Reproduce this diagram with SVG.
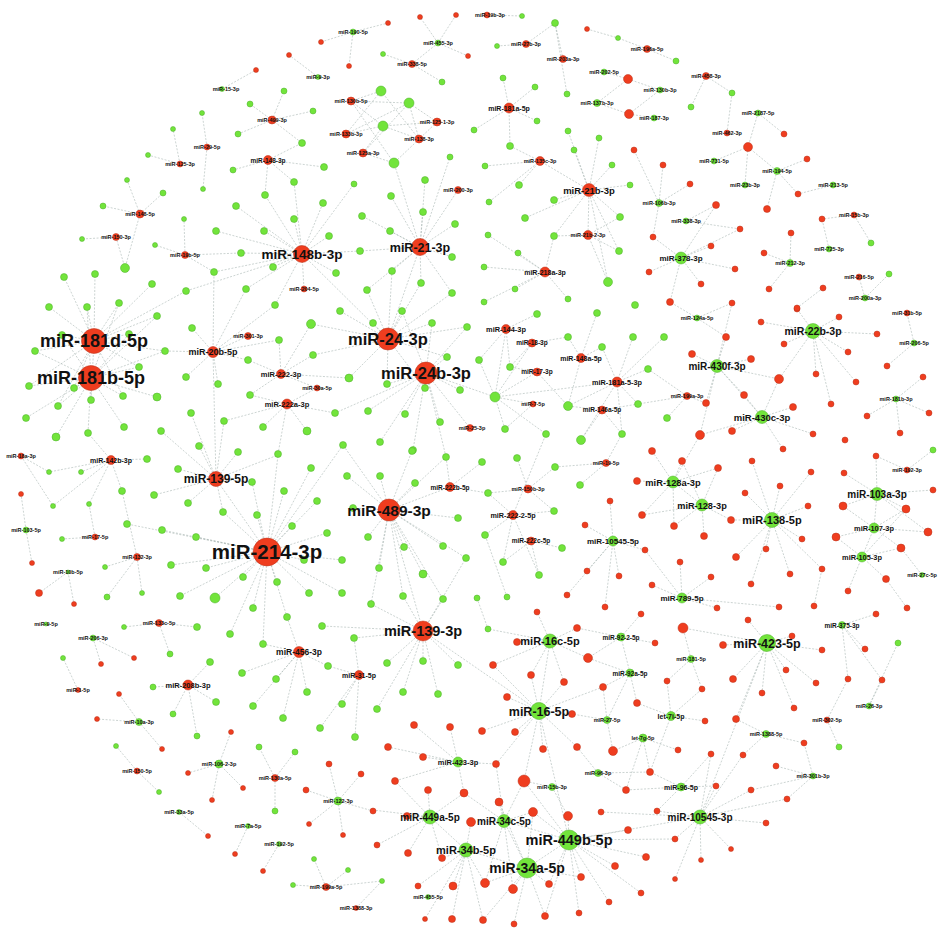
<svg xmlns="http://www.w3.org/2000/svg" width="948" height="930" viewBox="0 0 948 930">
<style>
.e path{fill:none;stroke:#aab7b3;stroke-width:.6;stroke-dasharray:2 1.5}
.r{fill:#ef3d1f;stroke:#b9331a;stroke-width:.5}
.g{fill:#72e43b;stroke:#4dae2b;stroke-width:.5}
text{font-family:"Liberation Sans",Arial,sans-serif;font-weight:bold;fill:#111;text-anchor:middle}
.s{font-size:5.5px}
</style>
<rect width="948" height="930" fill="#fff"/>
<g id="connectors" class="e">
<path d="M302 254L265 195M302 254L236 206M302 254L294 219M302 254L323 203M302 254L354 184M302 254L216 231M302 254L264 231M302 254L329 236M302 254L360 251M302 254L273 267M302 254L336 273M302 254L246 289M302 254L304 289M302 254L275 305M302 254L241 253M302 254L294 182M302 254L186 291M302 254L214 272"/>
<path d="M420 247L425 180M420 247L450 157M420 247L423 212M420 247L391 196M420 247L362 216M420 247L390 231M420 247L455 224M420 247L452 257M420 247L392 271M420 247L421 283M420 247L367 290M420 247L452 293M420 247L394 163M420 247L458 190M420 247L360 251"/>
<path d="M351 101L381 91M351 101L409 103M351 101L383 126M437 122L409 103M437 122L383 126M437 122L394 163M346 134L383 126M346 134L409 103M346 134L381 91M419 139L383 126M419 139L409 103M419 139L381 91M363 153L383 126M363 153L394 163M363 153L409 103M351 101L394 163"/>
<path d="M353 32L388 23M353 32L321 42M353 32L349 66M438 43L420 17M438 43L456 15M438 43L468 56M438 43L412 64M412 64L383 54M412 64L442 82M318 77L289 55M222 89L256 70M272 120L284 91M272 120L250 104M272 120L313 111M272 120L238 134M272 120L302 143M268 160L302 143M268 160L233 170M268 160L324 167M268 160L294 182M268 160L265 195M207 147L202 113M207 147L203 189M180 164L173 129M180 164L148 155M140 214L127 180M140 214L163 193M140 214L103 206M140 214L125 268M116 237L82 239M116 237L125 268M185 255L184 219M185 255L155 245M185 255L241 253M185 255L214 272"/>
<path d="M94 341L64 277M94 341L95 274M94 341L49 307M94 341L87 307M94 341L119 303M94 341L157 316M94 341L62 335M94 341L129 334M94 341L35 351M94 341L165 351M94 341L139 367M94 341L29 386M94 341L74 388M94 341L123 396M94 341L58 406M94 341L91 400M94 341L152 284M94 341L186 291"/>
<path d="M91 378L62 335M91 378L129 334M91 378L35 351M91 378L165 351M91 378L139 367M91 378L29 386M91 378L157 397M91 378L123 396M91 378L58 406M91 378L91 400M91 378L26 418M91 378L88 433M91 378L124 427M91 378L56 437M91 378L74 388M91 378L87 307M91 378L119 303M91 378L157 316"/>
<path d="M213 352L192 328M213 352L275 305M213 352L279 340M213 352L248 360M213 352L218 384M213 352L186 377M213 352L248 336M213 352L214 272M213 352L246 289M213 352L165 351"/>
<path d="M281 374L250 395M281 374L311 324M281 374L313 355M281 374L349 378M281 374L317 388M281 374L279 340M281 374L248 360M287 404L250 395M287 404L335 413M287 404L263 427M287 404L307 431M287 404L278 454M287 404L224 421M287 404L317 388"/>
<path d="M388 339L340 311M388 339L373 323M388 339L402 311M388 339L432 323M388 339L467 327M388 339L447 357M388 339L387 384M388 339L349 378M388 339L311 324M388 339L313 355M388 339L392 271M388 339L367 290M388 339L421 283M388 339L452 293M388 339L425 388"/>
<path d="M426 373L402 311M426 373L432 323M426 373L467 327M426 373L447 357M426 373L368 411M426 373L405 414M426 373L440 422M426 373L425 388M426 373L387 384M426 373L460 390M426 373L380 442M426 373L413 450M426 373L446 457M426 373L495 397M426 373L470 428M426 373L335 413"/>
<path d="M111 460L49 472M111 460L81 472M111 460L53 506M111 460L89 504M111 460L122 491M111 460L147 459M111 460L88 433"/>
<path d="M216 479L178 469M216 479L154 495M216 479L188 503M216 479L199 446M216 479L238 452M216 479L252 482M216 479L223 512M216 479L278 455M216 479L224 421M216 479L191 413M216 479L161 431M216 479L267 552"/>
<path d="M267 552L284 491M267 552L311 468M267 552L317 501M267 552L292 526M267 552L327 533M267 552L257 515M267 552L196 537M267 552L206 568M267 552L243 577M267 552L277 582M267 552L309 593M267 552L342 593M267 552L304 560M267 552L342 560M267 552L180 596M267 552L215 598M267 552L253 608M267 552L171 565M267 552L127 524M267 552L162 530M267 552L223 512M267 552L252 482M267 552L278 455M267 552L263 644M267 552L230 634M267 552L287 617M267 552L343 445"/>
<path d="M389 510L380 476M389 510L347 476M389 510L412 451M389 510L415 483M389 510L447 456M389 510L353 508M389 510L368 537M389 510L404 547M389 510L443 546M389 510L458 518M389 510L379 568M389 510L423 574M389 510L466 558M389 510L371 604M389 510L403 596M389 510L443 599M389 510L343 445M389 510L450 487"/>
<path d="M423 631L387 663M423 631L377 709M423 631L403 692M423 631L423 661M423 631L438 694M423 631L458 665M423 631L354 638M423 631L403 596M423 631L443 599M423 631L371 604M423 631L466 558M423 631L322 626M423 631L539 711"/>
<path d="M299 652L242 673M299 652L276 679M299 652L253 706M299 652L283 718M299 652L307 692M299 652L328 666M299 652L263 644M299 652L287 617M359 675L342 704M359 675L320 728M359 675L355 737M359 675L328 666M359 675L354 638M188 685L153 687M188 685L216 702M188 685L173 714M188 685L197 736M188 685L210 662"/>
<path d="M21 456L53 506M21 456L49 472M26 530L21 494M26 530L32 563M95 537L62 539M95 537L89 504M137 557L105 567M137 557L142 593M137 557L107 597M137 557L122 491M68 572L39 593M68 572L74 604M159 623L124 627M159 623L170 654M159 623L197 627M93 638L101 664M93 638L134 658M78 690L63 658M139 722L97 719M139 722L119 694M139 722L162 749M137 771L116 746M137 771L159 792M219 764L231 732M219 764L188 773M219 764L243 788M219 764L212 800M275 778L259 747M275 778L295 752M275 778L275 811M338 801L329 764M338 801L361 774M338 801L306 790M338 801L373 811M338 801L309 824M338 801L343 835M179 812L208 836M248 826L235 854M279 844L263 871M326 887L293 885M326 887L314 859M326 887L348 870M326 887L382 881M356 908L382 881"/>
<path d="M458 762L388 747M458 762L414 725M458 762L423 757M458 762L395 781M458 762L450 727M458 762L496 764M458 762L464 793M430 817L373 810M430 817L407 816M430 817L428 790M430 817L377 845M430 817L408 853M430 817L442 858M430 817L395 781M430 817L464 793M430 817L466 850"/>
<path d="M466 850L442 858M466 850L453 886M466 850L418 886M466 850L425 919M466 850L452 919M466 850L485 883M466 850L471 822M466 850L483 920M466 850L527 868M504 821L471 822M504 821L499 802M504 821L533 812M504 821L464 793M504 821L485 883M504 821L513 889M504 821L524 781M504 821L496 764M504 821L569 840M504 821L527 868"/>
<path d="M527 868L513 889M527 868L514 924M527 868L545 916M527 868L549 884M527 868L485 883M527 868L483 920M527 868L499 802M527 868L533 812M527 868L581 877M527 868L569 840"/>
<path d="M569 840L568 816M569 840L533 812M569 840L549 884M569 840L545 916M569 840L581 877M569 840L609 902M569 840L579 913M569 840L615 866M569 840L646 857M569 840L641 893M569 840L628 830M569 840L524 781M569 840L675 839M569 840L539 711"/>
<path d="M539 711L507 697M539 711L482 731M539 711L515 732M539 711L543 749M539 711L577 747M539 711L572 714M539 711L564 682M539 711L531 675M539 711L493 665M539 711L603 687M539 711L524 781M539 711L496 764M539 711L550 641M550 641L517 642M550 641L537 612M550 641L577 628M550 641L588 658M550 641L564 682M550 641L531 675M550 641L488 629M550 641L493 665"/>
<path d="M621 637L577 628M621 637L641 614M621 637L588 658M621 637L655 643M621 637L630 673M630 673L603 687M630 673L637 703M630 673L588 658M630 673L607 720M691 659L667 681M691 659L702 689M691 659L683 628M607 720L572 714M607 720L603 687M607 720L613 751M671 716L702 689M671 716L705 721M671 716L667 681M671 716L650 772M671 716L637 703M643 738L613 751M643 738L650 772M643 738L678 750M643 738L626 790M598 773L577 747M598 773L626 790M598 773L650 772M681 787L657 811M681 787L711 754M681 787L716 786M681 787L650 772M681 787L626 790M552 787L524 781M552 787L568 816"/>
<path d="M700 817L675 839M700 817L731 849M700 817L701 860M700 817L675 879M700 817L751 790M700 817L787 799M700 817L766 823M700 817L716 786M700 817L743 755M700 817L711 754M700 817L657 811M700 817L601 812M700 817L569 840"/>
<path d="M767 643L748 620M767 643L792 636M767 643L822 650M767 643L786 670M767 643L816 683M767 643L762 693M767 643L794 708M767 643L733 679M767 643L723 645M767 643L736 719M767 643L683 628M767 643L700 817M842 625L865 649M842 625L848 679M842 625L882 680M842 625L876 614M869 706L882 680M869 706L898 643M827 720L839 747M827 720L848 679M766 734L804 743M766 734L736 719M766 734L743 755M813 776L804 743M813 776L776 766M813 776L787 799M813 776L751 790"/>
<path d="M717 366L726 337M717 366L692 354M717 366L751 359M717 366L779 379M717 366L706 403M717 366L744 395M717 366L700 435M717 366L732 303M717 366L762 417M697 318L670 302M697 318L732 303M697 318L726 337M687 396L648 369M687 396L638 404M687 396L667 418M687 396L706 403"/>
<path d="M762 417L793 407M762 417L813 434M762 417L783 449M762 417L744 395M762 417L732 431M762 417L779 379M762 417L700 435M813 331L797 309M813 331L839 317M813 331L761 322M813 331L877 334M813 331L784 344M813 331L848 352M813 331L816 374M813 331L856 382M813 331L831 404M813 331L779 379"/>
<path d="M673 482L652 451M673 482L682 461M673 482L718 468M673 482L637 481M673 482L642 515M673 482L674 526M673 482L700 435M673 482L702 505M702 505L682 461M702 505L718 468M702 505L674 526M702 505L704 536M702 505L731 520M702 505L642 515"/>
<path d="M772 520L752 461M772 520L780 486M772 520L811 472M772 520L745 493M772 520L808 506M772 520L802 539M772 520L766 549M772 520L736 557M772 520L790 574M772 520L822 569M772 520L751 584M772 520L731 520"/>
<path d="M877 494L933 490M877 494L906 509M877 494L843 506M877 494L876 456M877 494L844 473M877 494L928 532M877 494L874 528M874 528L906 509M874 528L843 506M874 528L928 532M874 528L836 537M874 528L901 548M874 528L862 557M862 557L901 548M862 557L886 579M862 557L848 591M862 557L836 537M862 557L906 509M922 575L901 548"/>
<path d="M613 541L610 501M613 541L585 525M613 541L645 550M613 541L587 571M613 541L619 576M613 541L567 595M613 541L605 607M682 598L680 562M682 598L711 577M682 598L652 585M682 598L717 608M682 598L645 550M682 598L779 607M914 343L887 366M914 343L907 313M896 399L867 416M896 399L929 413M896 399L900 433M896 399L923 377M907 470L933 450M907 470L876 456M814 606L822 569M907 608L886 579"/>
<path d="M506 329L537 314M506 329L479 360M506 329L510 367M506 329L495 397M532 343L510 367M532 343L568 337M532 343L495 397M581 358L568 337M581 358L602 347M581 358L597 313M581 358L568 406M537 372L510 367M537 372L495 397M537 372L568 406M617 382L602 347M617 382L633 337M617 382L664 337M617 382L648 369M617 382L638 404M617 382L622 434M617 382L568 406M617 382L581 440M602 410L568 406M602 410L638 404M602 410L622 434M602 410L581 440M533 404L495 397M533 404L505 429M606 463L580 485M606 463L555 467M606 463L622 434M528 489L488 493M528 489L517 458M528 489L554 511M528 489L555 467M513 515L485 535M513 515L503 562M513 515L488 493M513 515L554 511M513 515L539 575M513 515L546 434M531 541L562 548M531 541L503 562M531 541L539 575M450 487L482 462M450 487L446 457M450 487L488 493M495 397L479 360M495 397L546 434M495 397L505 429M495 397L617 382M507 597L485 535M477 598L488 629"/>
<path d="M589 190L568 131M589 190L574 150M589 190L599 138M589 190L612 165M589 190L630 185M589 190L554 200M589 190L525 218M589 190L620 217M589 190L619 251M589 190L554 236M589 190L588 235M589 190L608 282M589 190L540 161M509 108L503 78M509 108L535 87M509 108L537 121M509 108L510 146M509 108L474 130M540 161L485 166M540 161L519 185M540 161L489 202M540 161L510 146M588 235L554 236M588 235L620 217M588 235L619 251M588 235L608 282M545 272L518 253M545 272L484 267M545 272L515 289M545 272L568 299M545 272L554 236M545 272L484 302M545 272L488 235"/>
<path d="M681 258L653 237M681 258L711 246M681 258L740 229M681 258L649 272M681 258L735 269M681 258L701 284M681 258L670 302M681 258L716 205M659 203L634 150M659 203L663 165M659 203L690 184M659 203L653 237M686 221L716 205M686 221L740 229"/>
<path d="M487 15L522 16M555 23L526 44M555 23L567 94M555 23L563 59M497 46L526 44M587 29L618 38M647 49L618 38M647 49L676 61M628 79L604 72M628 79L660 90M628 79L597 103M629 114L597 103M629 114L654 118M629 114L660 90M706 76L732 93M706 76L691 107M732 93L727 133M758 113L748 147M758 113L784 134M748 147L714 161M748 147L777 171M748 147L745 185M777 171L807 159M777 171L767 209M777 171L798 194M833 185L798 194M854 215L822 219M854 215L871 243M829 249L822 219M790 263L791 233M790 263L764 253M790 263L769 289M865 298L859 277M865 298L889 274M823 288L797 308"/>
<path d="M420 247L388 339M302 254L388 339M389 510L423 631M213 352L216 479"/>
</g>
<g id="leaves-green">
<circle class="g" cx="383" cy="54" r="2.5"/><circle class="g" cx="442" cy="82" r="3"/><circle class="g" cx="284" cy="91" r="3"/><circle class="g" cx="250" cy="104" r="3"/><circle class="g" cx="313" cy="111" r="3"/><circle class="g" cx="238" cy="134" r="3"/><circle class="g" cx="302" cy="143" r="3.5"/><circle class="g" cx="233" cy="170" r="3"/><circle class="g" cx="324" cy="167" r="3.5"/><circle class="g" cx="294" cy="182" r="3.5"/><circle class="g" cx="202" cy="113" r="2.5"/><circle class="g" cx="203" cy="189" r="2.5"/><circle class="g" cx="173" cy="129" r="2.5"/><circle class="g" cx="148" cy="155" r="2.5"/><circle class="g" cx="127" cy="180" r="2.5"/><circle class="g" cx="163" cy="193" r="3"/><circle class="g" cx="103" cy="206" r="3"/><circle class="g" cx="125" cy="268" r="4.5"/><circle class="g" cx="82" cy="239" r="2.5"/><circle class="g" cx="184" cy="219" r="2.5"/><circle class="g" cx="155" cy="245" r="2.5"/><circle class="g" cx="241" cy="253" r="3.5"/><circle class="g" cx="265" cy="195" r="3.5"/><circle class="g" cx="236" cy="206" r="3.5"/><circle class="g" cx="294" cy="219" r="3.5"/><circle class="g" cx="323" cy="203" r="3.5"/><circle class="g" cx="354" cy="184" r="3"/><circle class="g" cx="216" cy="231" r="3.5"/><circle class="g" cx="264" cy="231" r="3.5"/><circle class="g" cx="329" cy="236" r="3.5"/><circle class="g" cx="360" cy="251" r="3.5"/><circle class="g" cx="273" cy="267" r="3.5"/><circle class="g" cx="336" cy="273" r="3.5"/><circle class="g" cx="246" cy="289" r="3.5"/><circle class="g" cx="275" cy="305" r="3.5"/><circle class="g" cx="186" cy="291" r="3.5"/><circle class="g" cx="214" cy="272" r="3.5"/><circle class="g" cx="152" cy="284" r="3.5"/><circle class="g" cx="95" cy="274" r="3.5"/><circle class="g" cx="64" cy="277" r="3.5"/><circle class="g" cx="49" cy="307" r="3.5"/><circle class="g" cx="87" cy="307" r="3.5"/><circle class="g" cx="119" cy="303" r="3.5"/>
<circle class="g" cx="425" cy="180" r="3.5"/><circle class="g" cx="450" cy="157" r="3"/><circle class="g" cx="423" cy="212" r="3.5"/><circle class="g" cx="391" cy="196" r="3.5"/><circle class="g" cx="362" cy="216" r="3.5"/><circle class="g" cx="390" cy="231" r="3.5"/><circle class="g" cx="455" cy="224" r="3.5"/><circle class="g" cx="452" cy="257" r="3.5"/><circle class="g" cx="392" cy="271" r="3.5"/><circle class="g" cx="421" cy="283" r="3.5"/><circle class="g" cx="367" cy="290" r="3.5"/><circle class="g" cx="452" cy="293" r="3.5"/><circle class="g" cx="381" cy="91" r="5"/><circle class="g" cx="409" cy="103" r="5"/><circle class="g" cx="383" cy="126" r="5"/><circle class="g" cx="394" cy="163" r="5"/>
<circle class="g" cx="157" cy="316" r="3.5"/><circle class="g" cx="62" cy="335" r="3.5"/><circle class="g" cx="129" cy="334" r="3.5"/><circle class="g" cx="35" cy="351" r="3.5"/><circle class="g" cx="165" cy="351" r="3.5"/><circle class="g" cx="139" cy="367" r="3.5"/><circle class="g" cx="29" cy="386" r="3.5"/><circle class="g" cx="157" cy="397" r="4"/><circle class="g" cx="123" cy="396" r="3.5"/><circle class="g" cx="58" cy="406" r="3.5"/><circle class="g" cx="91" cy="400" r="3.5"/><circle class="g" cx="26" cy="418" r="3.5"/><circle class="g" cx="88" cy="433" r="3.5"/><circle class="g" cx="124" cy="427" r="3.5"/><circle class="g" cx="56" cy="437" r="4"/><circle class="g" cx="74" cy="388" r="3.5"/><circle class="g" cx="192" cy="328" r="3.5"/><circle class="g" cx="279" cy="340" r="3.5"/><circle class="g" cx="248" cy="360" r="3.5"/><circle class="g" cx="218" cy="384" r="3.5"/><circle class="g" cx="186" cy="377" r="3.5"/><circle class="g" cx="250" cy="395" r="3.5"/><circle class="g" cx="311" cy="324" r="4.5"/><circle class="g" cx="313" cy="355" r="3.5"/><circle class="g" cx="335" cy="413" r="3.5"/><circle class="g" cx="263" cy="427" r="3.5"/><circle class="g" cx="307" cy="431" r="4"/><circle class="g" cx="349" cy="378" r="4"/><circle class="g" cx="278" cy="454" r="3.5"/><circle class="g" cx="224" cy="421" r="3.5"/><circle class="g" cx="191" cy="413" r="3.5"/><circle class="g" cx="161" cy="431" r="3.5"/><circle class="g" cx="199" cy="446" r="3.5"/><circle class="g" cx="238" cy="452" r="3.5"/>
<circle class="g" cx="340" cy="311" r="3.5"/><circle class="g" cx="373" cy="323" r="3.5"/><circle class="g" cx="402" cy="311" r="3.5"/><circle class="g" cx="432" cy="323" r="3.5"/><circle class="g" cx="467" cy="327" r="3.5"/><circle class="g" cx="447" cy="357" r="3.5"/><circle class="g" cx="368" cy="411" r="3.5"/><circle class="g" cx="405" cy="414" r="3.5"/><circle class="g" cx="440" cy="422" r="3.5"/><circle class="g" cx="425" cy="388" r="3.5"/><circle class="g" cx="387" cy="384" r="3.5"/><circle class="g" cx="460" cy="390" r="3.5"/><circle class="g" cx="380" cy="442" r="3.5"/><circle class="g" cx="413" cy="450" r="3.5"/><circle class="g" cx="446" cy="457" r="3.5"/><circle class="g" cx="495" cy="397" r="5"/><circle class="g" cx="49" cy="472" r="2.5"/><circle class="g" cx="81" cy="472" r="2.5"/><circle class="g" cx="53" cy="506" r="2.5"/><circle class="g" cx="89" cy="504" r="2.5"/><circle class="g" cx="122" cy="491" r="3.5"/><circle class="g" cx="147" cy="459" r="3.5"/><circle class="g" cx="178" cy="469" r="3.5"/><circle class="g" cx="154" cy="495" r="3.5"/><circle class="g" cx="188" cy="503" r="3.5"/><circle class="g" cx="252" cy="482" r="3.5"/><circle class="g" cx="223" cy="512" r="3.5"/>
<circle class="g" cx="284" cy="491" r="3.5"/><circle class="g" cx="311" cy="468" r="3.5"/><circle class="g" cx="317" cy="501" r="3.5"/><circle class="g" cx="292" cy="526" r="3.5"/><circle class="g" cx="327" cy="533" r="3.5"/><circle class="g" cx="257" cy="515" r="3.5"/><circle class="g" cx="196" cy="537" r="3.5"/><circle class="g" cx="206" cy="568" r="3.5"/><circle class="g" cx="243" cy="577" r="3.5"/><circle class="g" cx="277" cy="582" r="3.5"/><circle class="g" cx="309" cy="593" r="3.5"/><circle class="g" cx="342" cy="593" r="3.5"/><circle class="g" cx="304" cy="560" r="3.5"/><circle class="g" cx="342" cy="560" r="3.5"/><circle class="g" cx="180" cy="596" r="3.5"/><circle class="g" cx="215" cy="598" r="5"/><circle class="g" cx="253" cy="608" r="3.5"/><circle class="g" cx="171" cy="565" r="3.5"/><circle class="g" cx="127" cy="524" r="3.5"/><circle class="g" cx="162" cy="530" r="3.5"/><circle class="g" cx="343" cy="445" r="3.5"/><circle class="g" cx="347" cy="476" r="3.5"/><circle class="g" cx="380" cy="476" r="3.5"/><circle class="g" cx="412" cy="451" r="3.5"/><circle class="g" cx="415" cy="483" r="3.5"/><circle class="g" cx="353" cy="508" r="3.5"/><circle class="g" cx="368" cy="537" r="3.5"/><circle class="g" cx="404" cy="547" r="3.5"/><circle class="g" cx="443" cy="546" r="3.5"/><circle class="g" cx="458" cy="518" r="3.5"/><circle class="g" cx="379" cy="568" r="3.5"/><circle class="g" cx="423" cy="574" r="4"/><circle class="g" cx="466" cy="558" r="3.5"/><circle class="g" cx="371" cy="604" r="3.5"/><circle class="g" cx="403" cy="596" r="3.5"/><circle class="g" cx="443" cy="599" r="3.5"/><circle class="g" cx="62" cy="539" r="2.5"/><circle class="g" cx="105" cy="567" r="2.5"/><circle class="g" cx="142" cy="593" r="2.5"/><circle class="g" cx="107" cy="597" r="3"/>
<circle class="g" cx="124" cy="627" r="2.5"/><circle class="g" cx="170" cy="654" r="3"/><circle class="g" cx="197" cy="627" r="3.5"/><circle class="g" cx="230" cy="634" r="3.5"/><circle class="g" cx="263" cy="644" r="3.5"/><circle class="g" cx="287" cy="617" r="3.5"/><circle class="g" cx="322" cy="626" r="3.5"/><circle class="g" cx="354" cy="638" r="3.5"/><circle class="g" cx="63" cy="658" r="2.5"/><circle class="g" cx="153" cy="687" r="3"/><circle class="g" cx="216" cy="702" r="3.5"/><circle class="g" cx="173" cy="714" r="3"/><circle class="g" cx="197" cy="736" r="3"/><circle class="g" cx="210" cy="662" r="3.5"/><circle class="g" cx="242" cy="673" r="3.5"/><circle class="g" cx="276" cy="679" r="3.5"/><circle class="g" cx="253" cy="706" r="3.5"/><circle class="g" cx="283" cy="718" r="3.5"/><circle class="g" cx="307" cy="692" r="3.5"/><circle class="g" cx="328" cy="666" r="3.5"/><circle class="g" cx="342" cy="704" r="3.5"/><circle class="g" cx="320" cy="728" r="3.5"/><circle class="g" cx="355" cy="737" r="3.5"/><circle class="g" cx="387" cy="663" r="3.5"/><circle class="g" cx="377" cy="709" r="3.5"/><circle class="g" cx="403" cy="692" r="3.5"/><circle class="g" cx="423" cy="661" r="3.5"/><circle class="g" cx="438" cy="694" r="3.5"/><circle class="g" cx="458" cy="665" r="3.5"/><circle class="g" cx="116" cy="746" r="2.5"/><circle class="g" cx="159" cy="792" r="2.5"/><circle class="g" cx="259" cy="747" r="3"/><circle class="g" cx="295" cy="752" r="3"/><circle class="g" cx="275" cy="811" r="3"/><circle class="g" cx="293" cy="885" r="2.5"/><circle class="g" cx="314" cy="859" r="2.5"/><circle class="g" cx="348" cy="870" r="2.5"/><circle class="g" cx="382" cy="881" r="2.5"/>
<circle class="g" cx="537" cy="314" r="3.5"/><circle class="g" cx="597" cy="313" r="3.5"/><circle class="g" cx="635" cy="305" r="3.5"/><circle class="g" cx="479" cy="360" r="3.5"/><circle class="g" cx="510" cy="367" r="3.5"/><circle class="g" cx="568" cy="337" r="3.5"/><circle class="g" cx="602" cy="347" r="3.5"/><circle class="g" cx="633" cy="337" r="3.5"/><circle class="g" cx="664" cy="337" r="3.5"/><circle class="g" cx="568" cy="406" r="4.5"/><circle class="g" cx="648" cy="369" r="3.5"/><circle class="g" cx="638" cy="404" r="3.5"/><circle class="g" cx="667" cy="418" r="3.5"/><circle class="g" cx="622" cy="434" r="3.5"/><circle class="g" cx="546" cy="434" r="3.5"/><circle class="g" cx="581" cy="440" r="4.5"/><circle class="g" cx="505" cy="429" r="3.5"/><circle class="g" cx="517" cy="458" r="3.5"/><circle class="g" cx="482" cy="462" r="3.5"/><circle class="g" cx="555" cy="467" r="3.5"/><circle class="g" cx="580" cy="485" r="3.5"/><circle class="g" cx="488" cy="493" r="3.5"/><circle class="g" cx="554" cy="511" r="3.5"/><circle class="g" cx="485" cy="535" r="3.5"/><circle class="g" cx="562" cy="548" r="3.5"/><circle class="g" cx="503" cy="562" r="3.5"/><circle class="g" cx="539" cy="575" r="3.5"/><circle class="g" cx="507" cy="597" r="3"/><circle class="g" cx="477" cy="598" r="3"/><circle class="g" cx="488" cy="629" r="3"/><circle class="g" cx="933" cy="450" r="3"/><circle class="g" cx="898" cy="643" r="3"/><circle class="g" cx="839" cy="747" r="3"/>
<circle class="g" cx="522" cy="16" r="2.5"/><circle class="g" cx="555" cy="23" r="3.5"/><circle class="g" cx="497" cy="46" r="2.5"/><circle class="g" cx="567" cy="94" r="3"/><circle class="g" cx="618" cy="38" r="2.5"/><circle class="g" cx="676" cy="61" r="3"/><circle class="g" cx="732" cy="93" r="3"/><circle class="g" cx="691" cy="107" r="3"/><circle class="g" cx="503" cy="78" r="3"/><circle class="g" cx="535" cy="87" r="3"/><circle class="g" cx="537" cy="121" r="3"/><circle class="g" cx="510" cy="146" r="3.5"/><circle class="g" cx="474" cy="130" r="3"/><circle class="g" cx="485" cy="166" r="3"/><circle class="g" cx="519" cy="185" r="3.5"/><circle class="g" cx="489" cy="202" r="3"/><circle class="g" cx="568" cy="131" r="3"/><circle class="g" cx="574" cy="150" r="3"/><circle class="g" cx="599" cy="138" r="3"/><circle class="g" cx="612" cy="165" r="3"/><circle class="g" cx="630" cy="185" r="3"/><circle class="g" cx="554" cy="200" r="3.5"/><circle class="g" cx="525" cy="218" r="3.5"/><circle class="g" cx="620" cy="217" r="3.5"/><circle class="g" cx="619" cy="251" r="3.5"/><circle class="g" cx="554" cy="236" r="3.5"/><circle class="g" cx="608" cy="282" r="4.5"/><circle class="g" cx="518" cy="253" r="3"/><circle class="g" cx="484" cy="267" r="3"/><circle class="g" cx="515" cy="289" r="3"/><circle class="g" cx="568" cy="299" r="3"/><circle class="g" cx="484" cy="302" r="3"/><circle class="g" cx="488" cy="235" r="3"/><circle class="g" cx="871" cy="243" r="3"/><circle class="g" cx="889" cy="274" r="3"/>
</g>
<g id="leaves-red">
<circle class="r" cx="388" cy="23" r="2.5"/><circle class="r" cx="321" cy="42" r="2.5"/><circle class="r" cx="349" cy="66" r="2.5"/><circle class="r" cx="420" cy="17" r="2.5"/><circle class="r" cx="456" cy="15" r="2.5"/><circle class="r" cx="468" cy="56" r="2.5"/><circle class="r" cx="289" cy="55" r="2.5"/><circle class="r" cx="256" cy="70" r="2.5"/><circle class="r" cx="21" cy="494" r="2.5"/><circle class="r" cx="32" cy="563" r="2.5"/><circle class="r" cx="39" cy="593" r="3.5"/><circle class="r" cx="74" cy="604" r="2.5"/>
<circle class="r" cx="101" cy="664" r="2.5"/><circle class="r" cx="134" cy="658" r="2.5"/><circle class="r" cx="97" cy="719" r="2.5"/><circle class="r" cx="119" cy="694" r="2.5"/><circle class="r" cx="162" cy="749" r="2.5"/><circle class="r" cx="231" cy="732" r="2.5"/><circle class="r" cx="188" cy="773" r="2.5"/><circle class="r" cx="243" cy="788" r="2.5"/><circle class="r" cx="212" cy="800" r="2.5"/><circle class="r" cx="329" cy="764" r="3"/><circle class="r" cx="361" cy="774" r="3"/><circle class="r" cx="306" cy="790" r="3"/><circle class="r" cx="373" cy="811" r="3"/><circle class="r" cx="309" cy="824" r="2.5"/><circle class="r" cx="343" cy="835" r="2.5"/><circle class="r" cx="208" cy="836" r="2.5"/><circle class="r" cx="235" cy="854" r="2.5"/><circle class="r" cx="263" cy="871" r="2.5"/>
<circle class="r" cx="388" cy="747" r="3.5"/><circle class="r" cx="414" cy="725" r="3.5"/><circle class="r" cx="423" cy="757" r="3.5"/><circle class="r" cx="450" cy="727" r="3.5"/><circle class="r" cx="395" cy="781" r="3.5"/><circle class="r" cx="428" cy="790" r="3.5"/><circle class="r" cx="464" cy="793" r="4"/><circle class="r" cx="407" cy="816" r="3.5"/><circle class="r" cx="471" cy="822" r="4.5"/><circle class="r" cx="377" cy="845" r="3"/><circle class="r" cx="408" cy="853" r="3.5"/><circle class="r" cx="442" cy="858" r="3.5"/><circle class="r" cx="418" cy="886" r="3"/><circle class="r" cx="453" cy="886" r="4"/><circle class="r" cx="425" cy="919" r="2.5"/><circle class="r" cx="452" cy="919" r="3.5"/><circle class="r" cx="485" cy="883" r="4.5"/><circle class="r" cx="483" cy="920" r="3.5"/><circle class="r" cx="513" cy="889" r="4.5"/><circle class="r" cx="514" cy="924" r="3"/><circle class="r" cx="496" cy="764" r="3.5"/><circle class="r" cx="499" cy="802" r="4"/><circle class="r" cx="533" cy="812" r="4.5"/><circle class="r" cx="568" cy="816" r="4.5"/><circle class="r" cx="524" cy="781" r="6"/><circle class="r" cx="549" cy="884" r="3.5"/><circle class="r" cx="545" cy="916" r="3.5"/><circle class="r" cx="581" cy="877" r="3.5"/><circle class="r" cx="609" cy="902" r="3"/><circle class="r" cx="579" cy="913" r="3"/><circle class="r" cx="615" cy="866" r="3.5"/><circle class="r" cx="646" cy="857" r="3.5"/><circle class="r" cx="641" cy="893" r="3"/><circle class="r" cx="628" cy="830" r="3.5"/>
<circle class="r" cx="507" cy="697" r="3.5"/><circle class="r" cx="482" cy="731" r="3.5"/><circle class="r" cx="515" cy="732" r="3.5"/><circle class="r" cx="543" cy="749" r="3.5"/><circle class="r" cx="577" cy="747" r="3.5"/><circle class="r" cx="572" cy="714" r="3.5"/><circle class="r" cx="564" cy="682" r="3.5"/><circle class="r" cx="531" cy="675" r="3.5"/><circle class="r" cx="493" cy="665" r="3.5"/><circle class="r" cx="517" cy="642" r="3.5"/><circle class="r" cx="537" cy="612" r="3"/><circle class="r" cx="577" cy="628" r="3.5"/><circle class="r" cx="588" cy="658" r="4.5"/><circle class="r" cx="603" cy="687" r="3.5"/><circle class="r" cx="637" cy="703" r="3.5"/><circle class="r" cx="641" cy="614" r="3"/><circle class="r" cx="655" cy="643" r="3"/><circle class="r" cx="683" cy="628" r="5"/><circle class="r" cx="667" cy="681" r="3"/><circle class="r" cx="702" cy="689" r="3"/><circle class="r" cx="705" cy="721" r="3"/><circle class="r" cx="678" cy="750" r="3"/><circle class="r" cx="650" cy="772" r="3.5"/><circle class="r" cx="626" cy="790" r="3.5"/><circle class="r" cx="613" cy="751" r="4.5"/><circle class="r" cx="657" cy="811" r="3"/><circle class="r" cx="601" cy="812" r="3"/><circle class="r" cx="723" cy="645" r="3.5"/><circle class="r" cx="748" cy="620" r="3"/><circle class="r" cx="792" cy="636" r="3"/><circle class="r" cx="822" cy="650" r="3"/><circle class="r" cx="786" cy="670" r="3"/><circle class="r" cx="816" cy="683" r="3"/><circle class="r" cx="762" cy="693" r="3"/><circle class="r" cx="794" cy="708" r="3"/><circle class="r" cx="733" cy="679" r="3.5"/><circle class="r" cx="736" cy="719" r="3.5"/><circle class="r" cx="675" cy="839" r="3"/><circle class="r" cx="731" cy="849" r="2.5"/><circle class="r" cx="701" cy="860" r="2.5"/><circle class="r" cx="675" cy="879" r="2.5"/><circle class="r" cx="751" cy="790" r="3"/><circle class="r" cx="787" cy="799" r="3"/><circle class="r" cx="766" cy="823" r="3"/><circle class="r" cx="716" cy="786" r="3"/><circle class="r" cx="743" cy="755" r="3"/><circle class="r" cx="711" cy="754" r="3"/><circle class="r" cx="804" cy="743" r="3"/><circle class="r" cx="776" cy="766" r="3"/><circle class="r" cx="876" cy="614" r="3"/><circle class="r" cx="865" cy="649" r="3"/><circle class="r" cx="848" cy="679" r="3"/><circle class="r" cx="882" cy="680" r="3"/>
<circle class="r" cx="670" cy="302" r="3.5"/><circle class="r" cx="732" cy="303" r="3"/><circle class="r" cx="726" cy="337" r="3.5"/><circle class="r" cx="692" cy="354" r="3.5"/><circle class="r" cx="751" cy="359" r="3.5"/><circle class="r" cx="779" cy="379" r="4.5"/><circle class="r" cx="706" cy="403" r="3.5"/><circle class="r" cx="744" cy="395" r="3.5"/><circle class="r" cx="700" cy="435" r="4.5"/><circle class="r" cx="732" cy="431" r="3.5"/><circle class="r" cx="793" cy="407" r="3.5"/><circle class="r" cx="813" cy="434" r="3"/><circle class="r" cx="783" cy="449" r="3"/><circle class="r" cx="797" cy="309" r="3"/><circle class="r" cx="839" cy="317" r="3"/><circle class="r" cx="761" cy="322" r="3"/><circle class="r" cx="877" cy="334" r="3"/><circle class="r" cx="784" cy="344" r="3"/><circle class="r" cx="848" cy="352" r="3"/><circle class="r" cx="816" cy="374" r="3"/><circle class="r" cx="856" cy="382" r="3"/><circle class="r" cx="831" cy="404" r="3"/><circle class="r" cx="887" cy="366" r="3"/><circle class="r" cx="923" cy="377" r="3"/><circle class="r" cx="867" cy="416" r="3"/><circle class="r" cx="929" cy="413" r="3"/><circle class="r" cx="900" cy="433" r="3"/><circle class="r" cx="845" cy="440" r="3"/><circle class="r" cx="876" cy="456" r="3"/><circle class="r" cx="844" cy="473" r="3"/>
<circle class="r" cx="652" cy="451" r="3.5"/><circle class="r" cx="682" cy="461" r="3.5"/><circle class="r" cx="718" cy="468" r="3.5"/><circle class="r" cx="637" cy="481" r="3.5"/><circle class="r" cx="642" cy="515" r="3.5"/><circle class="r" cx="674" cy="526" r="3.5"/><circle class="r" cx="704" cy="536" r="3.5"/><circle class="r" cx="731" cy="520" r="3.5"/><circle class="r" cx="752" cy="461" r="3"/><circle class="r" cx="780" cy="486" r="3"/><circle class="r" cx="811" cy="472" r="3"/><circle class="r" cx="745" cy="493" r="3"/><circle class="r" cx="808" cy="506" r="3"/><circle class="r" cx="802" cy="539" r="3"/><circle class="r" cx="766" cy="549" r="3"/><circle class="r" cx="736" cy="557" r="3.5"/><circle class="r" cx="790" cy="574" r="3"/><circle class="r" cx="822" cy="569" r="3"/><circle class="r" cx="751" cy="584" r="3"/><circle class="r" cx="933" cy="490" r="3"/><circle class="r" cx="906" cy="509" r="4"/><circle class="r" cx="843" cy="506" r="4"/><circle class="r" cx="928" cy="532" r="4"/><circle class="r" cx="836" cy="537" r="4"/><circle class="r" cx="901" cy="548" r="4"/><circle class="r" cx="886" cy="579" r="3.5"/><circle class="r" cx="848" cy="591" r="3"/><circle class="r" cx="610" cy="501" r="3"/><circle class="r" cx="585" cy="525" r="3"/><circle class="r" cx="645" cy="550" r="3"/><circle class="r" cx="587" cy="571" r="3"/><circle class="r" cx="619" cy="576" r="3"/><circle class="r" cx="567" cy="595" r="3"/><circle class="r" cx="605" cy="607" r="3"/><circle class="r" cx="680" cy="562" r="3"/><circle class="r" cx="711" cy="577" r="3"/><circle class="r" cx="652" cy="585" r="3"/><circle class="r" cx="717" cy="608" r="3"/><circle class="r" cx="779" cy="607" r="3"/><circle class="r" cx="814" cy="606" r="3"/><circle class="r" cx="907" cy="608" r="3"/>
<circle class="r" cx="587" cy="29" r="2.5"/><circle class="r" cx="628" cy="79" r="4.5"/><circle class="r" cx="629" cy="114" r="4.5"/><circle class="r" cx="784" cy="134" r="3"/><circle class="r" cx="748" cy="147" r="4.5"/><circle class="r" cx="807" cy="159" r="3"/><circle class="r" cx="767" cy="209" r="3.5"/><circle class="r" cx="798" cy="194" r="3"/><circle class="r" cx="822" cy="219" r="3"/><circle class="r" cx="791" cy="233" r="3"/><circle class="r" cx="764" cy="253" r="3"/><circle class="r" cx="769" cy="289" r="3"/><circle class="r" cx="823" cy="288" r="3"/><circle class="r" cx="797" cy="308" r="3"/><circle class="r" cx="634" cy="150" r="3"/><circle class="r" cx="663" cy="165" r="3"/><circle class="r" cx="690" cy="184" r="3"/><circle class="r" cx="716" cy="205" r="3.5"/><circle class="r" cx="653" cy="237" r="3"/><circle class="r" cx="711" cy="246" r="3"/><circle class="r" cx="740" cy="229" r="3"/><circle class="r" cx="649" cy="272" r="3"/><circle class="r" cx="735" cy="269" r="3"/><circle class="r" cx="701" cy="284" r="3"/>
</g>
<g id="small-labelled-nodes">
<g id="s1"><circle class="g" cx="353" cy="32" r="3"/><text class="s" x="353" y="34">miR-190-5p</text></g>
<g id="s2"><circle class="g" cx="438" cy="43" r="3"/><text class="s" x="438" y="45">miR-455-3p</text></g>
<g id="s3"><circle class="r" cx="412" cy="64" r="3.5"/><text class="s" x="412" y="66">miR-338-5p</text></g>
<g id="s4"><circle class="g" cx="318" cy="77" r="2.5"/><text class="s" x="318" y="79">miR-9-3p</text></g>
<g id="s5"><circle class="g" cx="222" cy="89" r="2.5"/><text class="s" x="226" y="91">miR-15-3p</text></g>
<g id="s6"><circle class="r" cx="272" cy="120" r="4"/><text class="s" x="272" y="122">miR-499-3p</text></g>
<g id="s7"><circle class="r" cx="268" cy="160" r="4.5"/><text x="268" y="162.5" font-size="6.5">miR-148-3p</text></g>
<g id="s8"><circle class="r" cx="207" cy="147" r="3"/><text class="s" x="207" y="149">miR-29-5p</text></g>
<g id="s9"><circle class="r" cx="180" cy="164" r="3"/><text class="s" x="180" y="166">miR-125-3p</text></g>
<g id="s10"><circle class="r" cx="140" cy="214" r="4"/><text class="s" x="140" y="216">miR-148-5p</text></g>
<g id="s11"><circle class="r" cx="116" cy="237" r="3.5"/><text class="s" x="116" y="239">miR-150-3p</text></g>
<g id="s12"><circle class="r" cx="185" cy="255" r="3.5"/><text class="s" x="185" y="257">miR-19b-5p</text></g>
<g id="s13"><circle class="r" cx="304" cy="289" r="3"/><text class="s" x="304" y="291">miR-204-5p</text></g>
<g id="s14"><circle class="r" cx="351" cy="101" r="4"/><text class="s" x="351" y="103">miR-130b-5p</text></g>
<g id="s15"><circle class="r" cx="437" cy="122" r="4"/><text class="s" x="437" y="124">miR-125-1-3p</text></g>
<g id="s16"><circle class="r" cx="346" cy="134" r="4"/><text class="s" x="346" y="136">miR-133b-3p</text></g>
<g id="s17"><circle class="r" cx="419" cy="139" r="4"/><text class="s" x="419" y="141">miR-138-3p</text></g>
<g id="s18"><circle class="r" cx="363" cy="153" r="4"/><text class="s" x="363" y="155">miR-125a-3p</text></g>
<g id="s19"><circle class="r" cx="458" cy="190" r="3.5"/><text class="s" x="458" y="192">miR-200-3p</text></g>
<g id="s20"><circle class="r" cx="248" cy="336" r="3.5"/><text class="s" x="248" y="338">miR-301-3p</text></g>
<g id="s21"><circle class="r" cx="317" cy="388" r="3"/><text class="s" x="317" y="390">miR-30a-5p</text></g>
<g id="s22"><circle class="r" cx="470" cy="428" r="3.5"/><text class="s" x="472" y="430">miR-25-3p</text></g>
<g id="s23"><circle class="r" cx="21" cy="456" r="3"/><text class="s" x="21" y="458">miR-18a-3p</text></g>
<g id="s24"><circle class="g" cx="26" cy="530" r="3"/><text class="s" x="26" y="532">miR-103-5p</text></g>
<g id="s25"><circle class="r" cx="95" cy="537" r="3"/><text class="s" x="95" y="539">miR-17-5p</text></g>
<g id="s26"><circle class="r" cx="137" cy="557" r="3.5"/><text class="s" x="137" y="559">miR-132-3p</text></g>
<g id="s27"><circle class="g" cx="68" cy="572" r="2"/><text class="s" x="68" y="574">miR-10b-5p</text></g>
<g id="s28"><circle class="g" cx="46" cy="624" r="2"/><text class="s" x="46" y="626">miR-9-5p</text></g>
<g id="s29"><circle class="r" cx="159" cy="623" r="3.5"/><text class="s" x="159" y="625">miR-133c-5p</text></g>
<g id="s30"><circle class="g" cx="93" cy="638" r="3"/><text class="s" x="93" y="640">miR-206-3p</text></g>
<g id="s31"><circle class="r" cx="78" cy="690" r="2.5"/><text class="s" x="78" y="692">miR-1-5p</text></g>
<g id="s32"><circle class="g" cx="139" cy="722" r="3.5"/><text class="s" x="139" y="724">miR-10a-3p</text></g>
<g id="s33"><circle class="r" cx="137" cy="771" r="3"/><text class="s" x="137" y="773">miR-150-5p</text></g>
<g id="s34"><circle class="g" cx="219" cy="764" r="4"/><text class="s" x="219" y="766">miR-106-2-3p</text></g>
<g id="s35"><circle class="r" cx="275" cy="778" r="3.5"/><text class="s" x="275" y="780">miR-130a-5p</text></g>
<g id="s36"><circle class="g" cx="338" cy="801" r="4"/><text class="s" x="338" y="803">miR-122-3p</text></g>
<g id="s37"><circle class="g" cx="179" cy="812" r="2.5"/><text class="s" x="179" y="814">miR-33a-5p</text></g>
<g id="s38"><circle class="g" cx="248" cy="826" r="2.5"/><text class="s" x="248" y="828">miR-7a-5p</text></g>
<g id="s39"><circle class="g" cx="279" cy="844" r="2.5"/><text class="s" x="279" y="846">miR-192-5p</text></g>
<g id="s40"><circle class="r" cx="326" cy="887" r="3.5"/><text class="s" x="326" y="889">miR-199a-5p</text></g>
<g id="s41"><circle class="r" cx="356" cy="908" r="2.5"/><text class="s" x="356" y="910">miR-1388-3p</text></g>
<g id="s42"><circle class="g" cx="428" cy="897" r="2.5"/><text class="s" x="428" y="899">miR-455-5p</text></g>
<g id="s43"><circle class="r" cx="532" cy="343" r="4"/><text x="532" y="345" font-size="6.5">miR-18-3p</text></g>
<g id="s44"><circle class="r" cx="537" cy="372" r="4"/><text x="537" y="374" font-size="6.5">miR-17-3p</text></g>
<g id="s45"><circle class="r" cx="602" cy="410" r="4"/><text x="602" y="412" font-size="6.5">miR-146a-5p</text></g>
<g id="s46"><circle class="r" cx="533" cy="404" r="3"/><text class="s" x="533" y="406">miR-7-5p</text></g>
<g id="s47"><circle class="r" cx="606" cy="463" r="3.5"/><text class="s" x="606" y="465">miR-19-5p</text></g>
<g id="s48"><circle class="r" cx="528" cy="489" r="4"/><text class="s" x="528" y="491">miR-150b-3p</text></g>
<g id="s49"><circle class="r" cx="531" cy="541" r="4"/><text x="531" y="543" font-size="6.5">miR-222c-5p</text></g>
<g id="s50"><circle class="r" cx="487" cy="15" r="3"/><text class="s" x="490" y="17">miR-19b-3p</text></g>
<g id="s51"><circle class="r" cx="526" cy="44" r="3.5"/><text class="s" x="526" y="46">miR-27b-3p</text></g>
<g id="s52"><circle class="r" cx="563" cy="59" r="3.5"/><text class="s" x="563" y="61">miR-203a-3p</text></g>
<g id="s53"><circle class="r" cx="647" cy="49" r="3.5"/><text class="s" x="647" y="51">miR-196a-5p</text></g>
<g id="s54"><circle class="g" cx="604" cy="72" r="3"/><text class="s" x="604" y="74">miR-202-5p</text></g>
<g id="s55"><circle class="g" cx="660" cy="90" r="3"/><text class="s" x="660" y="92">miR-130b-3p</text></g>
<g id="s56"><circle class="g" cx="597" cy="103" r="3.5"/><text class="s" x="597" y="105">miR-137b-3p</text></g>
<g id="s57"><circle class="g" cx="654" cy="118" r="3"/><text class="s" x="654" y="120">miR-187-3p</text></g>
<g id="s58"><circle class="r" cx="706" cy="76" r="3.5"/><text class="s" x="706" y="78">miR-458-3p</text></g>
<g id="s59"><circle class="r" cx="727" cy="133" r="3"/><text class="s" x="727" y="135">miR-462-3p</text></g>
<g id="s60"><circle class="g" cx="758" cy="113" r="3"/><text class="s" x="758" y="115">miR-2187-5p</text></g>
<g id="s61"><circle class="g" cx="714" cy="161" r="3"/><text class="s" x="714" y="163">miR-731-5p</text></g>
<g id="s62"><circle class="g" cx="777" cy="171" r="3.5"/><text class="s" x="777" y="173">miR-194-5p</text></g>
<g id="s63"><circle class="g" cx="745" cy="185" r="3"/><text class="s" x="745" y="187">miR-23b-3p</text></g>
<g id="s64"><circle class="g" cx="833" cy="185" r="3"/><text class="s" x="833" y="187">miR-213-5p</text></g>
<g id="s65"><circle class="r" cx="854" cy="215" r="3"/><text class="s" x="854" y="217">miR-15b-3p</text></g>
<g id="s66"><circle class="g" cx="829" cy="249" r="3"/><text class="s" x="829" y="251">miR-725-3p</text></g>
<g id="s67"><circle class="g" cx="790" cy="263" r="3.5"/><text class="s" x="790" y="265">miR-212-3p</text></g>
<g id="s68"><circle class="r" cx="859" cy="277" r="3"/><text class="s" x="859" y="279">miR-216-5p</text></g>
<g id="s69"><circle class="g" cx="865" cy="298" r="3"/><text class="s" x="865" y="300">miR-200a-3p</text></g>
<g id="s70"><circle class="r" cx="540" cy="161" r="4.5"/><text class="s" x="540" y="163">miR-135c-3p</text></g>
<g id="s71"><circle class="r" cx="588" cy="235" r="4.5"/><text class="s" x="588" y="237">miR-21b-2-3p</text></g>
<g id="s72"><circle class="g" cx="659" cy="203" r="3.5"/><text class="s" x="659" y="205">miR-106b-3p</text></g>
<g id="s73"><circle class="g" cx="686" cy="221" r="3"/><text class="s" x="686" y="223">miR-338-3p</text></g>
<g id="s74"><circle class="g" cx="697" cy="318" r="3"/><text class="s" x="697" y="320">miR-124a-5p</text></g>
<g id="s75"><circle class="r" cx="687" cy="396" r="3.5"/><text class="s" x="687" y="398">miR-199a-3p</text></g>
<g id="s76"><circle class="r" cx="907" cy="313" r="3"/><text class="s" x="907" y="315">miR-31b-5p</text></g>
<g id="s77"><circle class="g" cx="914" cy="343" r="3"/><text class="s" x="914" y="345">miR-206-5p</text></g>
<g id="s78"><circle class="g" cx="896" cy="399" r="3"/><text class="s" x="896" y="401">miR-181b-3p</text></g>
<g id="s79"><circle class="r" cx="907" cy="470" r="3"/><text class="s" x="907" y="472">miR-192-3p</text></g>
<g id="s80"><circle class="g" cx="922" cy="575" r="2.5"/><text class="s" x="922" y="577">miR-27c-5p</text></g>
<g id="s81"><circle class="g" cx="869" cy="706" r="3"/><text class="s" x="869" y="708">miR-26-3p</text></g>
<g id="s82"><circle class="r" cx="827" cy="720" r="3"/><text class="s" x="827" y="722">miR-302-5p</text></g>
<g id="s83"><circle class="g" cx="766" cy="734" r="3.5"/><text class="s" x="766" y="736">miR-1388-5p</text></g>
<g id="s84"><circle class="g" cx="813" cy="776" r="3"/><text class="s" x="813" y="778">miR-301b-3p</text></g>
<g id="s85"><circle class="g" cx="691" cy="659" r="3.5"/><text class="s" x="691" y="661">miR-181-5p</text></g>
<g id="s86"><circle class="g" cx="607" cy="720" r="3.5"/><text class="s" x="607" y="722">miR-27-5p</text></g>
<g id="s87"><circle class="g" cx="643" cy="738" r="4"/><text class="s" x="643" y="740">let-7g-5p</text></g>
<g id="s88"><circle class="g" cx="598" cy="773" r="3.5"/><text class="s" x="598" y="775">miR-96-3p</text></g>
<g id="s89"><circle class="g" cx="552" cy="787" r="3.5"/><text class="s" x="552" y="789">miR-15b-3p</text></g>
<g id="s90"><circle class="g" cx="621" cy="637" r="4"/><text x="621" y="639.5" font-size="6.5">miR-92-2-5p</text></g>
<g id="s91"><circle class="g" cx="630" cy="673" r="4"/><text x="630" y="675.5" font-size="6.5">miR-92a-5p</text></g>
<g id="s92"><circle class="g" cx="671" cy="716" r="4.5"/><text x="671" y="718.5" font-size="7">let-7i-5p</text></g>
<g id="s93"><circle class="g" cx="681" cy="787" r="4"/><text x="681" y="789.5" font-size="7">miR-96-5p</text></g>
<g id="s94"><circle class="g" cx="842" cy="625" r="3.5"/><text x="842" y="627.5" font-size="6.5">miR-375-3p</text></g>
</g>
<g id="hubs">
<g id="n-miR-181d-5p"><circle class="r" cx="94" cy="341" r="12.5"/><text x="94" y="347" font-size="18">miR-181d-5p</text></g>
<g id="n-miR-181b-5p"><circle class="r" cx="91" cy="378" r="12.5"/><text x="91" y="384" font-size="18">miR-181b-5p</text></g>
<g id="n-miR-214-3p"><circle class="r" cx="267" cy="552" r="14"/><text x="267" y="559" font-size="20.5">miR-214-3p</text></g>
<g id="n-miR-24-3p"><circle class="r" cx="388" cy="339" r="11"/><text x="388" y="345" font-size="16.5">miR-24-3p</text></g>
<g id="n-miR-24b-3p"><circle class="r" cx="426" cy="373" r="11"/><text x="426" y="379" font-size="16.5">miR-24b-3p</text></g>
<g id="n-miR-489-3p"><circle class="r" cx="389" cy="510" r="11"/><text x="389" y="515.5" font-size="15.5">miR-489-3p</text></g>
<g id="n-miR-139-3p"><circle class="r" cx="423" cy="631" r="10"/><text x="423" y="636" font-size="14.5">miR-139-3p</text></g>
<g id="n-miR-148b-3p"><circle class="r" cx="302" cy="254" r="8.5"/><text x="302" y="259" font-size="13.5">miR-148b-3p</text></g>
<g id="n-miR-21-3p"><circle class="r" cx="420" cy="247" r="8.5"/><text x="420" y="251.5" font-size="12.5">miR-21-3p</text></g>
<g id="n-miR-139-5p"><circle class="r" cx="216" cy="479" r="7.5"/><text x="216" y="483" font-size="12">miR-139-5p</text></g>
<g id="n-miR-20b-5p"><circle class="r" cx="213" cy="352" r="5.5"/><text x="213" y="355" font-size="9">miR-20b-5p</text></g>
<g id="n-miR-21b-3p"><circle class="r" cx="589" cy="190" r="6.5"/><text x="589" y="193.5" font-size="9.5">miR-21b-3p</text></g>
<g id="n-miR-222-3p"><circle class="r" cx="281" cy="374" r="4.5"/><text x="281" y="376.5" font-size="7.5">miR-222-3p</text></g>
<g id="n-miR-222a-3p"><circle class="r" cx="287" cy="404" r="5"/><text x="287" y="406.5" font-size="7.5">miR-222a-3p</text></g>
<g id="n-miR-456-3p"><circle class="r" cx="299" cy="652" r="5.5"/><text x="299" y="655" font-size="8.5">miR-456-3p</text></g>
<g id="n-miR-31-5p"><circle class="r" cx="359" cy="675" r="4.5"/><text x="359" y="677.5" font-size="7">miR-31-5p</text></g>
<g id="n-miR-208b-3p"><circle class="r" cx="188" cy="685" r="5"/><text x="188" y="687.5" font-size="7.5">miR-208b-3p</text></g>
<g id="n-miR-142b-3p"><circle class="r" cx="111" cy="460" r="4.5"/><text x="111" y="462.5" font-size="7">miR-142b-3p</text></g>
<g id="n-miR-144-3p"><circle class="r" cx="506" cy="329" r="4.5"/><text x="506" y="331.5" font-size="7.4">miR-144-3p</text></g>
<g id="n-miR-181a-5-3p"><circle class="r" cx="617" cy="382" r="5"/><text x="617" y="384.5" font-size="7.3">miR-181a-5-3p</text></g>
<g id="n-miR-148a-5p"><circle class="r" cx="581" cy="358" r="4.5"/><text x="581" y="360.5" font-size="7">miR-148a-5p</text></g>
<g id="n-miR-222-2-5p"><circle class="r" cx="513" cy="515" r="4.5"/><text x="513" y="517.5" font-size="7.2">miR-222-2-5p</text></g>
<g id="n-miR-222b-5p"><circle class="r" cx="450" cy="487" r="4.5"/><text x="450" y="489.5" font-size="6.5">miR-222b-5p</text></g>
<g id="n-miR-181a-5p"><circle class="r" cx="509" cy="108" r="5"/><text x="509" y="110.5" font-size="7">miR-181a-5p</text></g>
<g id="n-miR-218a-3p"><circle class="r" cx="545" cy="272" r="5"/><text x="545" y="274.5" font-size="7">miR-218a-3p</text></g>
<g id="n-miR-22b-3p"><circle class="g" cx="813" cy="331" r="7.5"/><text x="813" y="335" font-size="10.5">miR-22b-3p</text></g>
<g id="n-miR-430f-3p"><circle class="g" cx="717" cy="366" r="6.5"/><text x="717" y="369.5" font-size="10">miR-430f-3p</text></g>
<g id="n-miR-430c-3p"><circle class="g" cx="762" cy="417" r="6.5"/><text x="762" y="420.5" font-size="9.5">miR-430c-3p</text></g>
<g id="n-miR-128a-3p"><circle class="g" cx="673" cy="482" r="6"/><text x="673" y="485.5" font-size="9.3">miR-128a-3p</text></g>
<g id="n-miR-128-3p"><circle class="g" cx="702" cy="505" r="6"/><text x="702" y="508.5" font-size="9.2">miR-128-3p</text></g>
<g id="n-miR-138-5p"><circle class="g" cx="772" cy="520" r="7.5"/><text x="772" y="524" font-size="11">miR-138-5p</text></g>
<g id="n-miR-103a-3p"><circle class="g" cx="877" cy="494" r="6.5"/><text x="877" y="497.5" font-size="10">miR-103a-3p</text></g>
<g id="n-miR-107-3p"><circle class="g" cx="874" cy="528" r="5"/><text x="874" y="530.5" font-size="7.4">miR-107-3p</text></g>
<g id="n-miR-105-3p"><circle class="g" cx="862" cy="557" r="5"/><text x="862" y="559.5" font-size="7.4">miR-105-3p</text></g>
<g id="n-miR-10545-5p"><circle class="g" cx="613" cy="541" r="5"/><text x="613" y="544" font-size="8">miR-10545-5p</text></g>
<g id="n-miR-789-5p"><circle class="g" cx="682" cy="598" r="5"/><text x="682" y="601" font-size="8">miR-789-5p</text></g>
<g id="n-miR-378-3p"><circle class="g" cx="681" cy="258" r="6"/><text x="681" y="261" font-size="8">miR-378-3p</text></g>
<g id="n-miR-423-5p"><circle class="g" cx="767" cy="643" r="8.5"/><text x="767" y="647.5" font-size="12.5">miR-423-5p</text></g>
<g id="n-miR-16c-5p"><circle class="g" cx="550" cy="641" r="7"/><text x="550" y="645" font-size="11">miR-16c-5p</text></g>
<g id="n-miR-16-5p"><circle class="g" cx="539" cy="711" r="8.5"/><text x="539" y="715.5" font-size="12.5">miR-16-5p</text></g>
<g id="n-miR-423-3p"><circle class="g" cx="458" cy="762" r="5"/><text x="458" y="764.5" font-size="7.5">miR-423-3p</text></g>
<g id="n-miR-449a-5p"><circle class="g" cx="430" cy="817" r="7"/><text x="430" y="820.5" font-size="10">miR-449a-5p</text></g>
<g id="n-miR-34b-5p"><circle class="g" cx="466" cy="850" r="7"/><text x="466" y="854" font-size="11">miR-34b-5p</text></g>
<g id="n-miR-34c-5p"><circle class="g" cx="504" cy="821" r="6.5"/><text x="504" y="824.5" font-size="10">miR-34c-5p</text></g>
<g id="n-miR-449b-5p"><circle class="g" cx="569" cy="840" r="10"/><text x="569" y="845" font-size="14.5">miR-449b-5p</text></g>
<g id="n-miR-34a-5p"><circle class="g" cx="527" cy="868" r="10"/><text x="527" y="873" font-size="14">miR-34a-5p</text></g>
<g id="n-miR-10545-3p"><circle class="g" cx="700" cy="817" r="7"/><text x="700" y="820.5" font-size="10">miR-10545-3p</text></g>
</g>
</svg>
